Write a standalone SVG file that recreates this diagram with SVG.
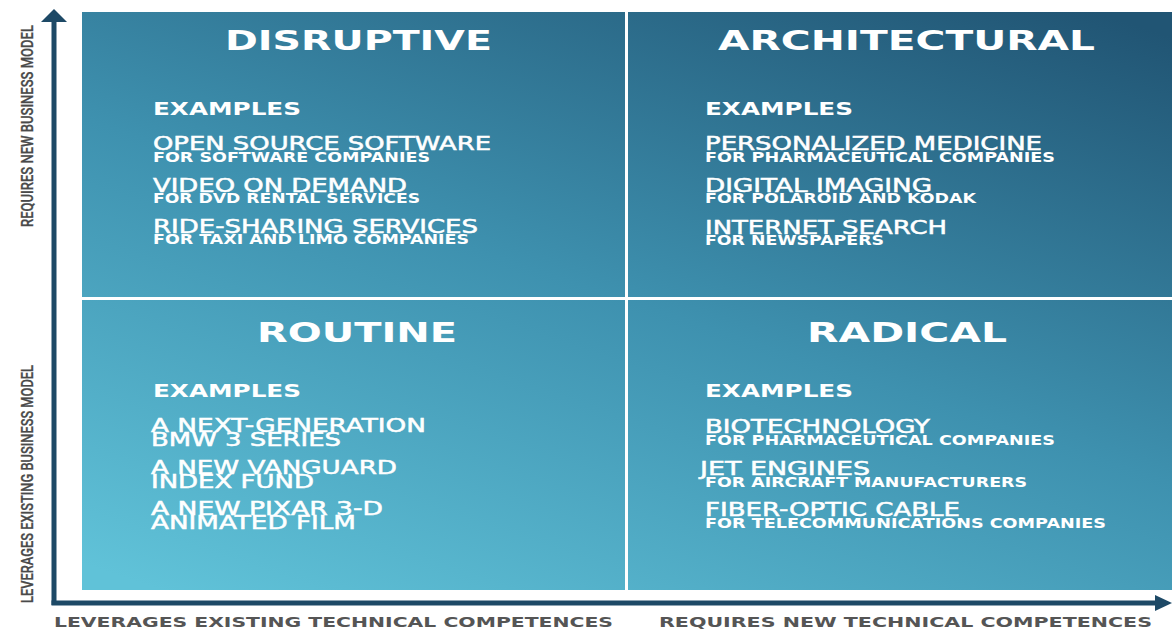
<svg xmlns="http://www.w3.org/2000/svg" width="1172" height="630" viewBox="0 0 1172 630">
<style>
.title{font-family:"DejaVu Sans",sans-serif;font-weight:bold;font-size:27px;fill:#ffffff}
.ex{font-family:"DejaVu Sans",sans-serif;font-weight:bold;font-size:18px;fill:#ffffff}
.item{font-family:"DejaVu Sans",sans-serif;font-weight:normal;font-size:19px;fill:#ffffff;stroke:#ffffff;stroke-width:0.5}
.sub{font-family:"DejaVu Sans",sans-serif;font-weight:bold;font-size:13.5px;fill:#ffffff}
.vlab{font-family:"Roboto","Liberation Sans",sans-serif;font-weight:500;font-size:17px;fill:#4a4a4a;stroke:#4a4a4a;stroke-width:0.3}
.hlab{font-family:"DejaVu Sans",sans-serif;font-weight:bold;font-size:14px;fill:#555555}
.axis{stroke:#1d4966;stroke-width:5;fill:none}
.div{stroke:#ffffff;stroke-width:3}
</style>
<defs>
<linearGradient id="bg" gradientUnits="userSpaceOnUse" x1="760" y1="-101" x2="491" y2="701">
<stop offset="0" stop-color="#215574"/>
<stop offset="0.5" stop-color="#3e91af"/>
<stop offset="1" stop-color="#60c2d8"/>
</linearGradient>
</defs>
<rect x="0" y="0" width="1172" height="630" fill="#ffffff"/>
<rect id="panel" x="82" y="12" width="1090" height="578" fill="url(#bg)"/>
<line class="div" x1="626.5" y1="12" x2="626.5" y2="590"/>
<line class="div" x1="82" y1="298.5" x2="1172" y2="298.5"/>

<g id="connectors">
<path class="axis" d="M54,605 V20"/>
<polygon points="54,9 67,22 41,22" fill="#1d4966"/>
<path class="axis" d="M51.5,603 H1158"/>
<polygon points="1172,603 1155,595 1155,611" fill="#1d4966"/>
</g>

<g id="axis-labels">
<text class="vlab" transform="translate(33,126) rotate(-90)" text-anchor="middle" textLength="202" lengthAdjust="spacingAndGlyphs">REQUIRES NEW BUSINESS MODEL</text>
<text class="vlab" transform="translate(33,484) rotate(-90)" text-anchor="middle" textLength="238" lengthAdjust="spacingAndGlyphs">LEVERAGES EXISTING BUSINESS MODEL</text>
<text class="hlab" x="54" y="627" textLength="559" lengthAdjust="spacingAndGlyphs">LEVERAGES EXISTING TECHNICAL COMPETENCES</text>
<text class="hlab" x="659" y="627" textLength="493" lengthAdjust="spacingAndGlyphs">REQUIRES NEW TECHNICAL COMPETENCES</text>
</g>

<g id="disruptive">
<text class="title" x="225" y="50" textLength="267" lengthAdjust="spacingAndGlyphs">DISRUPTIVE</text>
<text class="ex" x="153" y="115" textLength="148" lengthAdjust="spacingAndGlyphs">EXAMPLES</text>
<text class="item" x="153" y="150" textLength="338" lengthAdjust="spacingAndGlyphs">OPEN SOURCE SOFTWARE</text>
<text class="sub" x="153" y="162" textLength="277" lengthAdjust="spacingAndGlyphs">FOR SOFTWARE COMPANIES</text>
<text class="item" x="153" y="192" textLength="254" lengthAdjust="spacingAndGlyphs">VIDEO ON DEMAND</text>
<text class="sub" x="153" y="203" textLength="267" lengthAdjust="spacingAndGlyphs">FOR DVD RENTAL SERVICES</text>
<text class="item" x="153" y="233" textLength="325" lengthAdjust="spacingAndGlyphs">RIDE-SHARING SERVICES</text>
<text class="sub" x="153" y="244" textLength="316" lengthAdjust="spacingAndGlyphs">FOR TAXI AND LIMO COMPANIES</text>
</g>

<g id="architectural">
<text class="title" x="718" y="50" textLength="377" lengthAdjust="spacingAndGlyphs">ARCHITECTURAL</text>
<text class="ex" x="705" y="115" textLength="148" lengthAdjust="spacingAndGlyphs">EXAMPLES</text>
<text class="item" x="705" y="150" textLength="337" lengthAdjust="spacingAndGlyphs">PERSONALIZED MEDICINE</text>
<text class="sub" x="705" y="162" textLength="350" lengthAdjust="spacingAndGlyphs">FOR PHARMACEUTICAL COMPANIES</text>
<text class="item" x="705" y="192" textLength="227" lengthAdjust="spacingAndGlyphs">DIGITAL IMAGING</text>
<text class="sub" x="705" y="203" textLength="271" lengthAdjust="spacingAndGlyphs">FOR POLAROID AND KODAK</text>
<text class="item" x="705" y="234" textLength="242" lengthAdjust="spacingAndGlyphs">INTERNET SEARCH</text>
<text class="sub" x="705" y="245" textLength="179" lengthAdjust="spacingAndGlyphs">FOR NEWSPAPERS</text>
</g>

<g id="routine">
<text class="title" x="257" y="342" textLength="200" lengthAdjust="spacingAndGlyphs">ROUTINE</text>
<text class="ex" x="153" y="397" textLength="148" lengthAdjust="spacingAndGlyphs">EXAMPLES</text>
<text class="item" x="151" y="432" textLength="275" lengthAdjust="spacingAndGlyphs">A NEXT-GENERATION</text>
<text class="item" x="151" y="446" textLength="190" lengthAdjust="spacingAndGlyphs">BMW 3 SERIES</text>
<text class="item" x="151" y="474" textLength="246" lengthAdjust="spacingAndGlyphs">A NEW VANGUARD</text>
<text class="item" x="151" y="488" textLength="163" lengthAdjust="spacingAndGlyphs">INDEX FUND</text>
<text class="item" x="151" y="515" textLength="232" lengthAdjust="spacingAndGlyphs">A NEW PIXAR 3-D</text>
<text class="item" x="151" y="529" textLength="205" lengthAdjust="spacingAndGlyphs">ANIMATED FILM</text>
</g>

<g id="radical">
<text class="title" x="807" y="342" textLength="200" lengthAdjust="spacingAndGlyphs">RADICAL</text>
<text class="ex" x="705" y="397" textLength="148" lengthAdjust="spacingAndGlyphs">EXAMPLES</text>
<text class="item" x="705" y="433" textLength="225" lengthAdjust="spacingAndGlyphs">BIOTECHNOLOGY</text>
<text class="sub" x="705" y="445" textLength="350" lengthAdjust="spacingAndGlyphs">FOR PHARMACEUTICAL COMPANIES</text>
<text class="item" x="700" y="475" textLength="170" lengthAdjust="spacingAndGlyphs">JET ENGINES</text>
<text class="sub" x="705" y="487" textLength="322" lengthAdjust="spacingAndGlyphs">FOR AIRCRAFT MANUFACTURERS</text>
<text class="item" x="705" y="516" textLength="255" lengthAdjust="spacingAndGlyphs">FIBER-OPTIC CABLE</text>
<text class="sub" x="705" y="528" textLength="401" lengthAdjust="spacingAndGlyphs">FOR TELECOMMUNICATIONS COMPANIES</text>
</g>
</svg>
